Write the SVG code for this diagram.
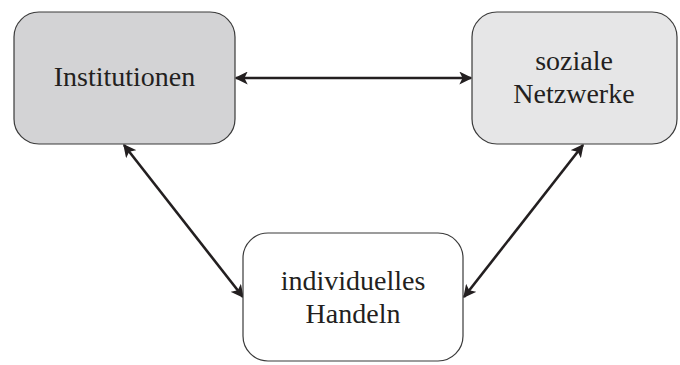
<svg xmlns="http://www.w3.org/2000/svg" width="680" height="365" viewBox="0 0 680 365">
  <defs>
    <style>
      .box { stroke: #3a3a3a; stroke-width: 1.2; }
      .lbl { font-family: "Liberation Serif", "Times New Roman", serif; font-size: 28px; fill: #231f20; text-anchor: middle; }
      .link { stroke: #231f20; stroke-width: 2.6; fill: none; marker-start: url(#head); marker-end: url(#head); }
    </style>
    <marker id="head" viewBox="0 0 10 10" refX="9" refY="5" markerWidth="5" markerHeight="5" orient="auto-start-reverse" markerUnits="strokeWidth">
      <path d="M0,0 L10,5 L0,10 L2.5,5 Z" fill="#231f20"/>
    </marker>
  </defs>
  <rect width="680" height="365" fill="#ffffff"/>

  <g id="connectors">
    <line class="link" x1="236" y1="78" x2="471" y2="78"/>
    <line class="link" x1="124" y1="145" x2="243" y2="297"/>
    <line class="link" x1="583" y1="145" x2="464" y2="297"/>
  </g>

  <g id="institutionen">
    <rect class="box" x="14" y="12" width="221" height="132" rx="25" fill="#d3d3d5"/>
    <text class="lbl" x="124.5" y="86">Institutionen</text>
  </g>

  <g id="soziale-netzwerke">
    <rect class="box" x="472" y="12" width="205" height="132" rx="25" fill="#e6e6e7"/>
    <text class="lbl" x="574" y="70">soziale</text>
    <text class="lbl" x="574" y="103">Netzwerke</text>
  </g>

  <g id="individuelles-handeln">
    <rect class="box" x="243" y="233" width="220" height="128" rx="25" fill="#ffffff"/>
    <text class="lbl" x="353" y="290">individuelles</text>
    <text class="lbl" x="353" y="323">Handeln</text>
  </g>
</svg>
